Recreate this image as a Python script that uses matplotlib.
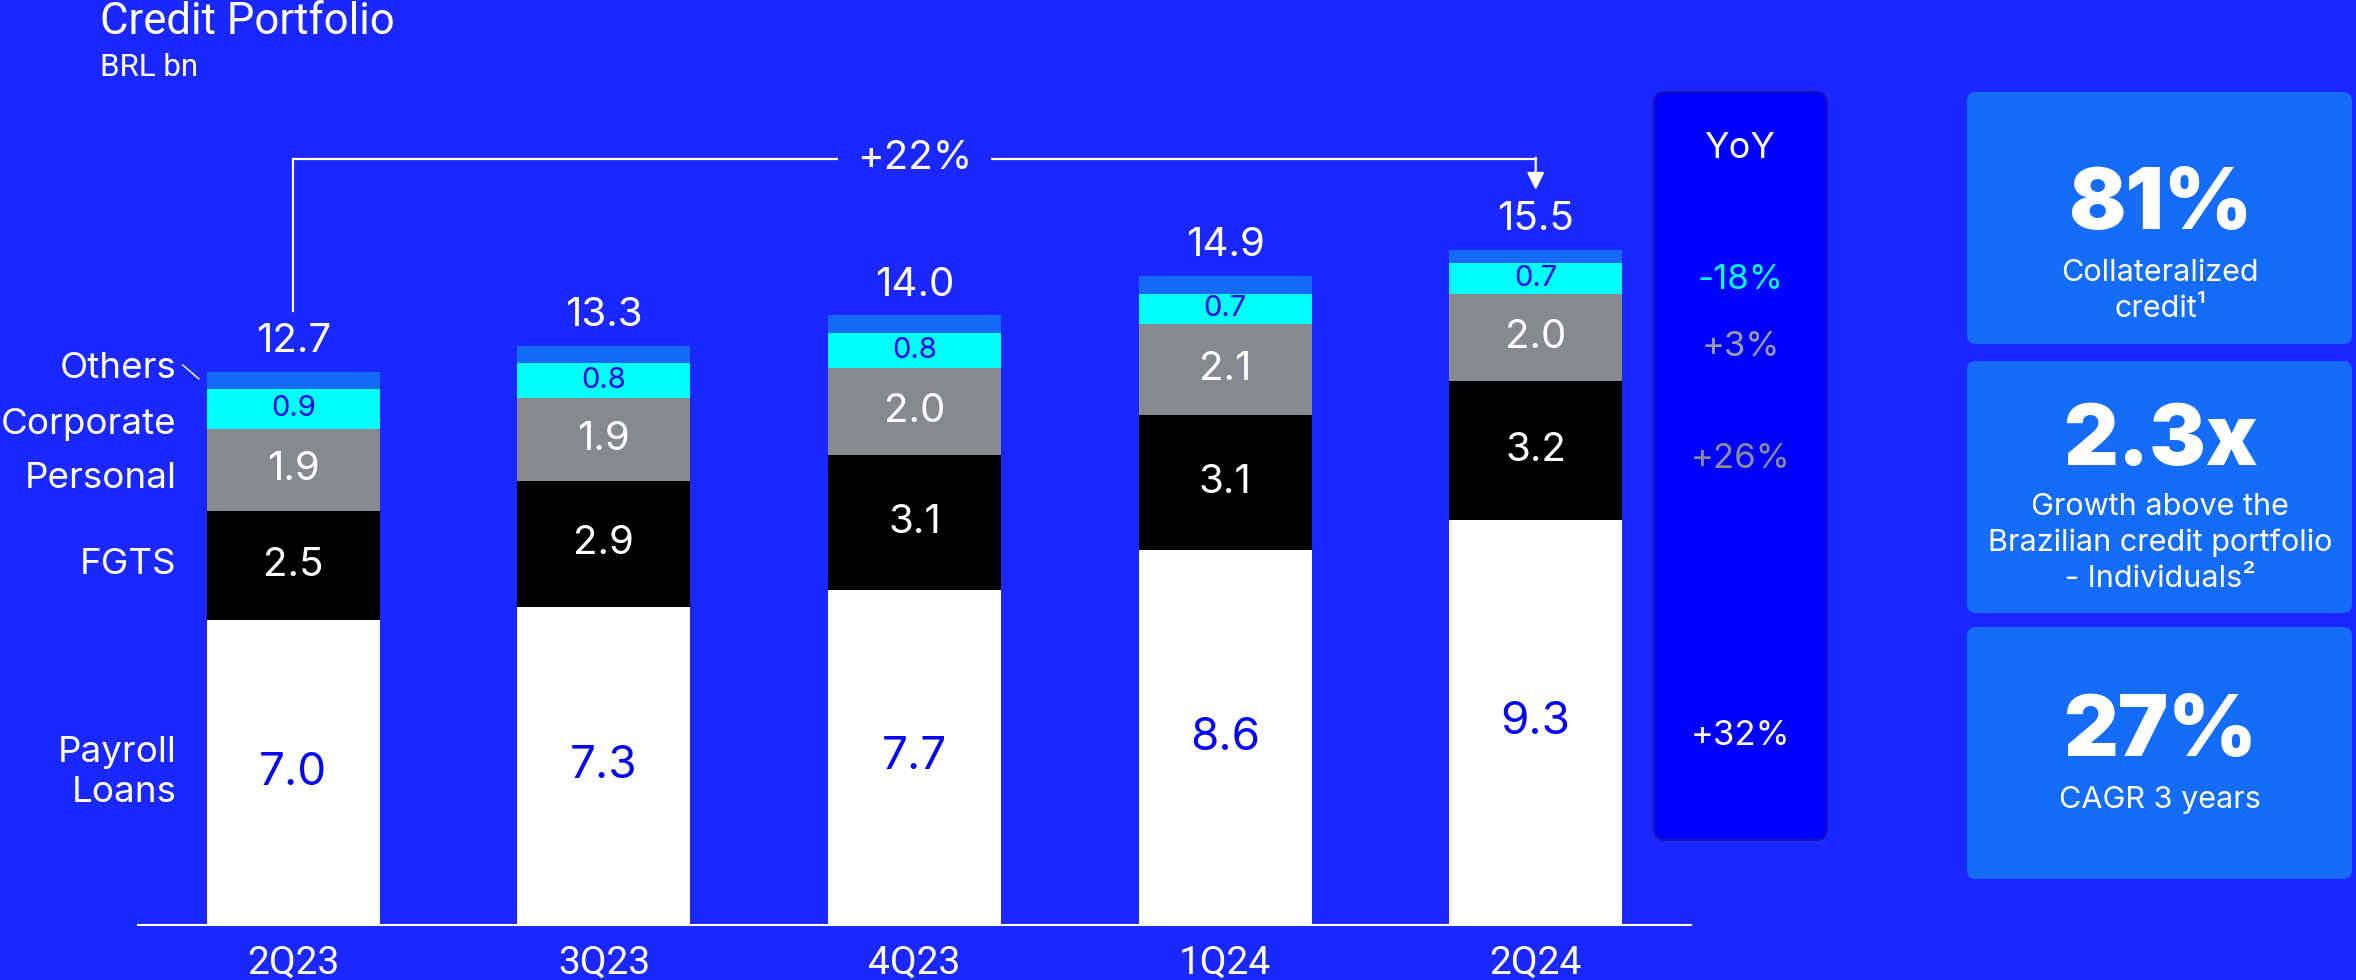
import numpy as np
import matplotlib.pyplot as plt
from matplotlib.patches import FancyBboxPatch

# ---------------- data ----------------
quarters = ['2Q23', '3Q23', '4Q23', '1Q24', '2Q24']
totals = np.array([12.7, 13.3, 14.0, 14.9, 15.5])
payroll = np.array([7.0, 7.3, 7.7, 8.6, 9.3])
fgts = np.array([2.5, 2.9, 3.1, 3.1, 3.2])
personal = np.array([1.9, 1.9, 2.0, 2.1, 2.0])
corporate = np.array([0.9, 0.8, 0.8, 0.7, 0.7])
others = totals - (payroll + fgts + personal + corporate)

segment_names = ['Payroll\nLoans', 'FGTS', 'Personal', 'Corporate', 'Others']
yoy_growth = ['+32%', '+26%', '+3%', '-18%']
period_growth = '+22%'

card_values = ['81%', '2.3x', '27%']
card_captions = ['Collateralized\ncredit¹',
                 'Growth above the\nBrazilian credit portfolio\n- Individuals²',
                 'CAGR 3 years']

# ---------------- style ----------------
BG = '#1A28FF'
seg_colors = ['#FFFFFF', '#000000', '#86898E', '#00FFFF', '#1469F5']
lbl_colors = ['#0505F0', '#FFFFFF', '#FFFFFF', '#0505E6', None]
lbl_sizes = [33, 29, 29, 21, 0]
yoy_colors = ['#FFFFFF', '#8A8A9A', '#9A9AA8', '#00FFFF']
yoy_nudge = [-0.3, -0.2, -0.22, -0.05]
FONT = ['Inter', 'DejaVu Sans']
COND = ['Roboto', 'DejaVu Sans']

W, H = 2356, 980
fig = plt.figure(figsize=(W / 100, H / 100), dpi=100, facecolor=BG)

# overlay in pixel coordinates for panels and captions
ov = fig.add_axes([0, 0, 1, 1])
ov.set_xlim(0, W)
ov.set_ylim(H, 0)
ov.axis('off')
ov.set_zorder(0)

ax = fig.add_axes([138 / W, 55 / H, (1691 - 138) / W, 871 / H])
ax.set_zorder(1)
ax.patch.set_alpha(0)
ax.set_xlim(-0.5, 4.5)
ax.set_ylim(0, 20)

# ---------------- stacked bars ----------------
x = np.arange(len(quarters))
bw = 0.557
layers = [payroll, fgts, personal, corporate, others]
bottom = np.zeros(len(quarters))
for k, vals in enumerate(layers):
    ax.bar(x, vals, bw, bottom=bottom, color=seg_colors[k], linewidth=0)
    if lbl_colors[k] is not None:
        for i, v in enumerate(vals):
            ax.text(x[i], bottom[i] + v / 2, f'{v:.1f}', ha='center', va='center',
                    color=lbl_colors[k], fontsize=lbl_sizes[k], family=FONT)
    bottom = bottom + vals

for i, t in enumerate(totals):
    ax.text(x[i], t + 0.27, f'{t:.1f}', ha='center', va='bottom',
            color='white', fontsize=29, family=FONT)

# segment names on the left of the first bar
name_y = [payroll[0] / 2, 8.28, 10.25, 11.5, 12.78]
for name, yy in zip(segment_names, name_y):
    ax.text(-0.375, yy, name, ha='right', va='center', color='white',
            fontsize=26.5, family=FONT, linespacing=1.3, multialignment='right')
ax.plot([-0.356, -0.304], [12.86, 12.54], color='white', lw=1, clip_on=False)

# growth bracket from first to last quarter
top_y = 17.6
ax.plot([x[0], x[0], x[-1]], [totals[0] + 1.4, top_y, top_y],
        color='white', lw=1.6, clip_on=False, solid_joinstyle='miter')
ax.annotate('', xy=(x[-1], totals[-1] + 1.38), xytext=(x[-1], top_y + 0.02),
            arrowprops=dict(arrowstyle='-|>', color='white', lw=1.6,
                            mutation_scale=26, shrinkA=0, shrinkB=0))
ax.text((x[0] + x[-1]) / 2, top_y, period_growth, ha='center', va='center',
        color='white', fontsize=29, family=FONT,
        bbox=dict(facecolor=BG, edgecolor='none', pad=14))

ax.set_xticks(x, quarters)
ax.tick_params(axis='x', length=0, pad=14, labelcolor='white', labelsize=28)
for lab in ax.get_xticklabels():
    lab.set_family(COND)
ax.set_yticks([])
for s in ['top', 'right', 'left']:
    ax.spines[s].set_visible(False)
ax.spines['bottom'].set_color('white')
ax.spines['bottom'].set_linewidth(1.5)

# ---------------- YoY panel ----------------
ov.add_patch(FancyBboxPatch((1654, 92), 173, 748,
                            boxstyle='round,pad=0,rounding_size=12',
                            facecolor='#0000FF', edgecolor='#1212B8', lw=1.5))
ov.text(1740, 158, 'YoY', ha='center', va='baseline', color='white',
        fontsize=26, family=FONT)
yoy_x = 4.66
bottom = np.zeros(len(quarters))
for k, vals in enumerate(layers[:4]):
    ax.text(yoy_x, bottom[-1] + vals[-1] / 2 + yoy_nudge[k], yoy_growth[k],
            ha='center', va='center', color=yoy_colors[k], fontsize=25,
            family=FONT, clip_on=False)
    bottom = bottom + vals

# ---------------- highlight cards ----------------
card_tops = [92, 361, 627]
value_base = [229, 465, 756]
caption_base = [281, 515, 808]
for top, v, c, vb, cb in zip(card_tops, card_values, card_captions,
                             value_base, caption_base):
    ov.add_patch(FancyBboxPatch((1967, top), 385, 252,
                                boxstyle='round,pad=0,rounding_size=9',
                                facecolor='#146CF8', edgecolor='none'))
    ov.text(2160, vb, v, ha='center', va='baseline', color='white',
            fontsize=61, fontweight=900, family=FONT)
    for j, line in enumerate(c.split('\n')):
        ov.text(2160, cb + 36 * j, line, ha='center', va='baseline',
                color='white', fontsize=22, family=FONT)

# ---------------- titles ----------------
ov.text(100, 34, 'Credit Portfolio', ha='left', va='baseline', color='white',
        fontsize=31.5, family=COND)
ov.text(100, 76, 'BRL bn', ha='left', va='baseline', color='white',
        fontsize=22.5, family=COND)

fig.savefig('out.png', dpi=100, facecolor=BG)
